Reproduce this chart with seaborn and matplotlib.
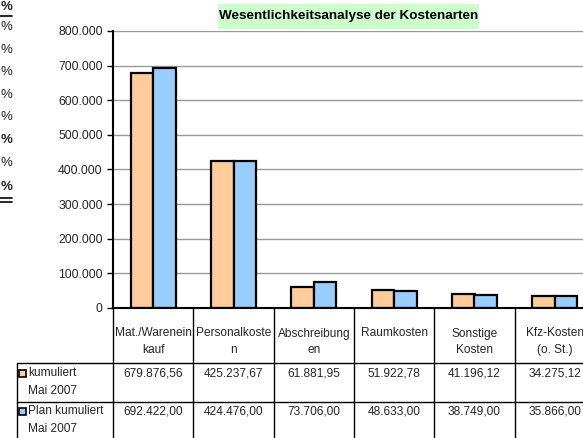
import numpy as np
import pandas as pd
import matplotlib
matplotlib.use("Agg")
import matplotlib.pyplot as plt
import seaborn as sns
from matplotlib.transforms import blended_transform_factory
from matplotlib.patches import Rectangle
from matplotlib.lines import Line2D
from matplotlib.ticker import FuncFormatter

# ---------------- data ----------------
categories = ["Mat./Wareneinkauf", "Personalkosten", "Abschreibungen",
              "Raumkosten", "Sonstige Kosten", "Kfz-Kosten (o. St.)"]
cat_labels = ["Mat./Warenein\nkauf", "Personalkoste\nn", "Abschreibung\nen",
              "Raumkosten", "Sonstige\nKosten", "Kfz-Kosten\n(o. St.)"]
series_names = ["kumuliert\nMai 2007", "Plan kumuliert\nMai 2007"]
kumuliert = [679876.56, 425237.67, 61881.95, 51922.78, 41196.12, 34275.12]
plan_kumuliert = [692422.00, 424476.00, 73706.00, 48633.00, 38749.00, 35866.00]
yticks = [0, 100000, 200000, 300000, 400000, 500000, 600000, 700000, 800000]
title = "Wesentlichkeitsanalyse der Kostenarten"
colors = ["#FFCC99", "#99CCFF"]

def de_num(v, dec=2):
    s = f"{v:,.{dec}f}"
    return s.replace(",", "X").replace(".", ",").replace("X", ".")

df = pd.DataFrame({
    "cat": categories * 2,
    "val": kumuliert + plan_kumuliert,
    "series": [series_names[0]] * 6 + [series_names[1]] * 6,
})

# ---------------- figure ----------------
sns.set_style("white")
plt.rcParams["font.family"] = ["Liberation Sans", "DejaVu Sans"]
W, H = 583, 438
fig = plt.figure(figsize=(W / 100, H / 100), dpi=100)
fig.patch.set_facecolor("white")

def fx(px):
    return px / W

def fy(py):
    return 1 - py / H

ax = fig.add_axes([fx(113), fy(308), 482 / W, 277 / H])
sns.barplot(data=df, x="cat", y="val", hue="series", palette=colors,
            width=0.56, edgecolor="black", linewidth=1.6, saturation=1,
            legend=False, ax=ax)
ax.set_xlim(-0.5, 5.5)
ax.set_ylim(0, 800000)
ax.set_yticks(yticks)
ax.yaxis.set_major_formatter(FuncFormatter(lambda v, p: de_num(v, 0)))
ax.set_xticks(range(6))
ax.set_xticklabels([])
ax.set_xlabel("")
ax.set_ylabel("")
ax.yaxis.grid(True, color="#9a9a9a", linewidth=1)
ax.set_axisbelow(True)
for s in ["top", "right"]:
    ax.spines[s].set_visible(False)
for s in ["left", "bottom"]:
    ax.spines[s].set_color("black")
    ax.spines[s].set_linewidth(1.5)
ax.tick_params(axis="y", direction="out", length=4, width=1, color="black",
               labelsize=8.7, pad=3.5, left=True)
ax.tick_params(axis="x", length=0)
ax.set_facecolor("white")

# ---------------- title ----------------
fig.add_artist(Rectangle((fx(218), fy(29)), (479 - 218) / W, 25 / H,
                         transform=fig.transFigure, facecolor="#CCFFCC",
                         edgecolor="none"))
fig.text(fx(348.5), fy(16.5), title, ha="center", va="center",
         fontsize=9.7, fontweight="bold", color="black")

# ---------------- data table ----------------
trans = blended_transform_factory(ax.transData, fig.transFigure)
for b in np.arange(-0.5, 6.0, 1.0):
    ax.add_line(Line2D([b, b], [fy(308), fy(440)], transform=trans,
                       color="black", lw=1, clip_on=False))
for yy in [363, 402]:
    fig.add_artist(Line2D([fx(17), 1], [fy(yy), fy(yy)],
                          transform=fig.transFigure, color="black", lw=1))
fig.add_artist(Line2D([fx(17), fx(17)], [fy(363), fy(440)],
                      transform=fig.transFigure, color="black", lw=1))

for i, lab in enumerate(cat_labels):
    ax.text(i, fy(327.5), lab, transform=trans, ha="center", va="top",
            fontsize=8.6, linespacing=1.45, clip_on=False)

rows = [kumuliert, plan_kumuliert]
row_y = [373, 411]
for r, (vals, yy) in enumerate(zip(rows, row_y)):
    for i, v in enumerate(vals):
        ax.text(i, fy(yy), de_num(v), transform=trans, ha="center",
                va="center", fontsize=8.6, clip_on=False)
    fig.add_artist(Rectangle((fx(19), fy(yy + 4)), 7 / W, 7 / H,
                             transform=fig.transFigure, facecolor=colors[r],
                             edgecolor="black", lw=1.2))
    name1, name2 = series_names[r].split("\n")
    fig.text(fx(28.5), fy(yy), name1, ha="left", va="center", fontsize=8.6)
    fig.text(fx(28.5), fy(yy + 18.5), name2, ha="left", va="center", fontsize=8.6)

# ---------------- left strip (cropped spreadsheet) ----------------
pct_y = [7, 27, 50, 72, 95, 117, 140, 163, 187]
pct_bold = [True, False, False, False, False, False, True, False, True]
for yy, b in zip(pct_y, pct_bold):
    fig.text(fx(0.5), fy(yy), "%", ha="left", va="center", fontsize=9.5,
             fontweight="bold" if b else "normal")
fig.add_artist(Line2D([0, fx(12)], [fy(16), fy(16)],
                      transform=fig.transFigure, color="black", lw=1.2))
for yy in [198, 202]:
    fig.add_artist(Line2D([0, fx(12)], [fy(yy), fy(yy)],
                          transform=fig.transFigure, color="black", lw=1.2))

fig.savefig("out.png", dpi=100, facecolor="white")
